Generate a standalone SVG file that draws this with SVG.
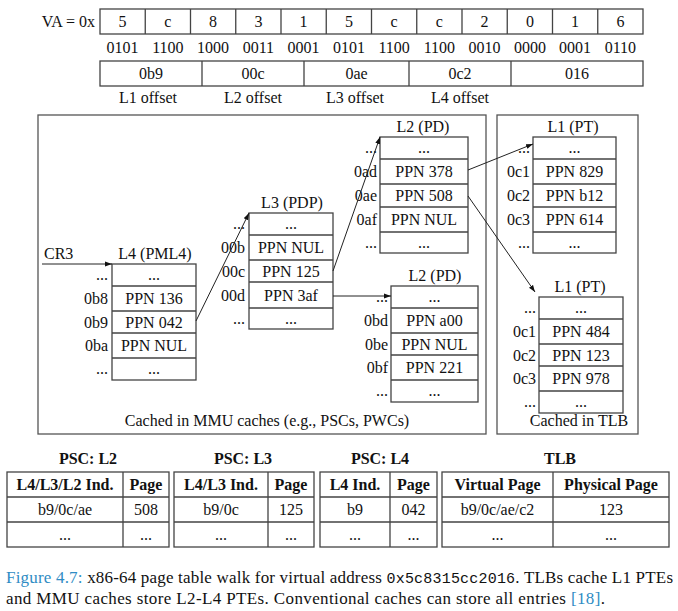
<svg xmlns="http://www.w3.org/2000/svg" width="678" height="611" viewBox="0 0 678 611">
<defs>
<marker id="ah" viewBox="0 0 10 10" refX="10" refY="5" markerWidth="7" markerHeight="7" markerUnits="userSpaceOnUse" orient="auto"><path d="M0,1.5 L10,5 L0,8.5 z" fill="#111"/></marker>
<style>
text{font-family:"Liberation Serif","Times New Roman",serif;font-size:16px;fill:#111}
.c{text-anchor:middle}
.r{text-anchor:end}
.b{font-weight:bold}
.box{fill:#fff;stroke:#444;stroke-width:1.3}
.ln{stroke:#444;stroke-width:1.3;fill:none}
.frame{fill:none;stroke:#555;stroke-width:1.3}
.conn{stroke:#222;stroke-width:1;fill:none;marker-end:url(#ah)}
.mono{font-family:"Liberation Mono","DejaVu Sans Mono",monospace;font-size:15px}
.blue{fill:#2f8cc4}
.cap{font-size:17px}
</style>
</defs>

<g id="va">
<text x="95" y="27" class="r">VA = 0x</text>
<rect x="100" y="9" width="543" height="25" class="box"/>
<path class="ln" d="M145.25,9V34M190.5,9V34M235.75,9V34M281,9V34M326.25,9V34M371.5,9V34M416.75,9V34M462,9V34M507.25,9V34M552.5,9V34M597.75,9V34"/>
<text x="122.6" y="27" class="c">5</text>
<text x="167.9" y="27" class="c">c</text>
<text x="213.1" y="27" class="c">8</text>
<text x="258.4" y="27" class="c">3</text>
<text x="303.6" y="27" class="c">1</text>
<text x="348.9" y="27" class="c">5</text>
<text x="394.1" y="27" class="c">c</text>
<text x="439.4" y="27" class="c">c</text>
<text x="484.6" y="27" class="c">2</text>
<text x="529.9" y="27" class="c">0</text>
<text x="575.1" y="27" class="c">1</text>
<text x="620.4" y="27" class="c">6</text>
</g>

<g id="bits">
<text x="122.6" y="53" class="c">0101</text>
<text x="167.9" y="53" class="c">1100</text>
<text x="213.1" y="53" class="c">1000</text>
<text x="258.4" y="53" class="c">0011</text>
<text x="303.6" y="53" class="c">0001</text>
<text x="348.9" y="53" class="c">0101</text>
<text x="394.1" y="53" class="c">1100</text>
<text x="439.4" y="53" class="c">1100</text>
<text x="484.6" y="53" class="c">0010</text>
<text x="529.9" y="53" class="c">0000</text>
<text x="575.1" y="53" class="c">0001</text>
<text x="620.4" y="53" class="c">0110</text>
</g>

<g id="offsets">
<rect x="100" y="61" width="543" height="25" class="box"/>
<path class="ln" d="M202,61V86M304,61V86M409,61V86M511,61V86"/>
<text x="151" y="79" class="c">0b9</text>
<text x="253" y="79" class="c">00c</text>
<text x="356.5" y="79" class="c">0ae</text>
<text x="460" y="79" class="c">0c2</text>
<text x="577" y="79" class="c">016</text>
<text x="148" y="103" class="c">L1 offset</text>
<text x="253" y="103" class="c">L2 offset</text>
<text x="355" y="103" class="c">L3 offset</text>
<text x="460" y="103" class="c">L4 offset</text>
</g>

<g id="mmu-frame">
<rect x="38" y="115" width="448" height="319" class="frame"/>
<text x="267" y="426" class="c">Cached in MMU caches (e.g., PSCs, PWCs)</text>
</g>
<g id="tlb-frame">
<rect x="497" y="115" width="141" height="319" class="frame"/>
<text x="579" y="426" class="c">Cached in TLB</text>
</g>

<g id="l4">
<text x="155" y="259" class="c">L4 (PML4)</text>
<rect x="112" y="264" width="84" height="116" class="box"/>
<path class="ln" d="M112,286H196M112,311H196M112,333H196M112,358H196"/>
<text x="154" y="280" class="c">...</text>
<text x="154" y="304" class="c">PPN 136</text>
<text x="154" y="327.5" class="c">PPN 042</text>
<text x="154" y="351" class="c">PPN NUL</text>
<text x="154" y="374" class="c">...</text>
<text x="108" y="280" class="r">...</text>
<text x="108" y="304" class="r">0b8</text>
<text x="108" y="327.5" class="r">0b9</text>
<text x="108" y="351" class="r">0ba</text>
<text x="108" y="374" class="r">...</text>
</g>

<g id="l3">
<text x="292" y="208" class="c">L3 (PDP)</text>
<rect x="249" y="213" width="84" height="116" class="box"/>
<path class="ln" d="M249,235H333M249,260H333M249,282H333M249,308H333"/>
<text x="291" y="229" class="c">...</text>
<text x="291" y="253" class="c">PPN NUL</text>
<text x="291" y="276.5" class="c">PPN 125</text>
<text x="291" y="300.5" class="c">PPN 3af</text>
<text x="291" y="323.5" class="c">...</text>
<text x="245" y="229" class="r">...</text>
<text x="245" y="253" class="r">00b</text>
<text x="245" y="276.5" class="r">00c</text>
<text x="245" y="300.5" class="r">00d</text>
<text x="245" y="323.5" class="r">...</text>
</g>

<g id="l2a">
<text x="423" y="132" class="c">L2 (PD)</text>
<rect x="380" y="137" width="88" height="116" class="box"/>
<path class="ln" d="M380,159H468M380,184H468M380,207H468M380,232H468"/>
<text x="424" y="153" class="c">...</text>
<text x="424" y="177" class="c">PPN 378</text>
<text x="424" y="201" class="c">PPN 508</text>
<text x="424" y="225" class="c">PPN NUL</text>
<text x="424" y="247.5" class="c">...</text>
<text x="377" y="153" class="r">...</text>
<text x="377" y="177" class="r">0ad</text>
<text x="377" y="201" class="r">0ae</text>
<text x="377" y="225" class="r">0af</text>
<text x="377" y="247.5" class="r">...</text>
</g>

<g id="l1a">
<text x="573" y="132" class="c">L1 (PT)</text>
<rect x="533" y="137" width="83" height="116" class="box"/>
<path class="ln" d="M533,159H616M533,184H616M533,207H616M533,232H616"/>
<text x="574.5" y="153" class="c">...</text>
<text x="574.5" y="177" class="c">PPN 829</text>
<text x="574.5" y="201" class="c">PPN b12</text>
<text x="574.5" y="225" class="c">PPN 614</text>
<text x="574.5" y="247.5" class="c">...</text>
<text x="530" y="153" class="r">...</text>
<text x="530" y="177" class="r">0c1</text>
<text x="530" y="201" class="r">0c2</text>
<text x="530" y="225" class="r">0c3</text>
<text x="530" y="247.5" class="r">...</text>
</g>

<g id="l2b">
<text x="435" y="281" class="c">L2 (PD)</text>
<rect x="391" y="286" width="87" height="116" class="box"/>
<path class="ln" d="M391,308H478M391,333H478M391,355H478M391,380H478"/>
<text x="434.5" y="302" class="c">...</text>
<text x="434.5" y="326" class="c">PPN a00</text>
<text x="434.5" y="349.5" class="c">PPN NUL</text>
<text x="434.5" y="373" class="c">PPN 221</text>
<text x="434.5" y="396" class="c">...</text>
<text x="388" y="302" class="r">...</text>
<text x="388" y="326" class="r">0bd</text>
<text x="388" y="349.5" class="r">0be</text>
<text x="388" y="373" class="r">0bf</text>
<text x="388" y="396" class="r">...</text>
</g>

<g id="l1b">
<text x="580" y="292" class="c">L1 (PT)</text>
<rect x="539" y="297" width="84" height="116" class="box"/>
<path class="ln" d="M539,319H623M539,344H623M539,366H623M539,391H623"/>
<text x="581" y="313" class="c">...</text>
<text x="581" y="337" class="c">PPN 484</text>
<text x="581" y="360.5" class="c">PPN 123</text>
<text x="581" y="384" class="c">PPN 978</text>
<text x="581" y="407" class="c">...</text>
<text x="536" y="313" class="r">...</text>
<text x="536" y="337" class="r">0c1</text>
<text x="536" y="360.5" class="r">0c2</text>
<text x="536" y="384" class="r">0c3</text>
<text x="536" y="407" class="r">...</text>
</g>

<g id="cr3">
<text x="44" y="259">CR3</text>
</g>

<g id="connectors">
<path class="conn" d="M42,264H112"/>
<path class="conn" d="M196,321L249,213"/>
<path class="conn" d="M333,271L380,137"/>
<path class="conn" d="M333,296H391"/>
<path class="conn" d="M468,170L533,144"/>
<path class="conn" d="M468,196L535,292"/>
</g>

<g id="psc-l2">
<text x="88" y="464" class="c b">PSC: L2</text>
<rect x="7" y="472" width="162" height="75" class="box"/>
<path class="ln" d="M7,497H169M7,522H169M123,472V547"/>
<text x="65" y="490" class="c b">L4/L3/L2 Ind.</text>
<text x="146" y="490" class="c b">Page</text>
<text x="65" y="515" class="c">b9/0c/ae</text>
<text x="146" y="515" class="c">508</text>
<text x="65" y="539.5" class="c">...</text>
<text x="146" y="539.5" class="c">...</text>
</g>

<g id="psc-l3">
<text x="243" y="464" class="c b">PSC: L3</text>
<rect x="174" y="472" width="140" height="75" class="box"/>
<path class="ln" d="M174,497H314M174,522H314M268,472V547"/>
<text x="221" y="490" class="c b">L4/L3 Ind.</text>
<text x="291" y="490" class="c b">Page</text>
<text x="221" y="515" class="c">b9/0c</text>
<text x="291" y="515" class="c">125</text>
<text x="221" y="539.5" class="c">...</text>
<text x="291" y="539.5" class="c">...</text>
</g>

<g id="psc-l4">
<text x="380" y="464" class="c b">PSC: L4</text>
<rect x="320" y="472" width="117" height="75" class="box"/>
<path class="ln" d="M320,497H437M320,522H437M390,472V547"/>
<text x="355" y="490" class="c b">L4 Ind.</text>
<text x="413.5" y="490" class="c b">Page</text>
<text x="355" y="515" class="c">b9</text>
<text x="413.5" y="515" class="c">042</text>
<text x="355" y="539.5" class="c">...</text>
<text x="413.5" y="539.5" class="c">...</text>
</g>

<g id="tlb">
<text x="560" y="464" class="c b">TLB</text>
<rect x="442" y="472" width="227" height="75" class="box"/>
<path class="ln" d="M442,497H669M442,522H669M553,472V547"/>
<text x="497.5" y="490" class="c b">Virtual Page</text>
<text x="611" y="490" class="c b">Physical Page</text>
<text x="497.5" y="515" class="c">b9/0c/ae/c2</text>
<text x="611" y="515" class="c">123</text>
<text x="497.5" y="539.5" class="c">...</text>
<text x="611" y="539.5" class="c">...</text>
</g>

<g id="caption">
<text x="6" y="583" class="cap" textLength="667" lengthAdjust="spacing"><tspan class="blue">Figure 4.7:</tspan> x86-64 page table walk for virtual address <tspan class="mono">0x5c8315cc2016</tspan>. TLBs cache L1 PTEs</text>
<text x="6" y="604" class="cap" textLength="599" lengthAdjust="spacing">and MMU caches store L2-L4 PTEs. Conventional caches can store all entries <tspan class="blue">[18]</tspan>.</text>
</g>
</svg>
